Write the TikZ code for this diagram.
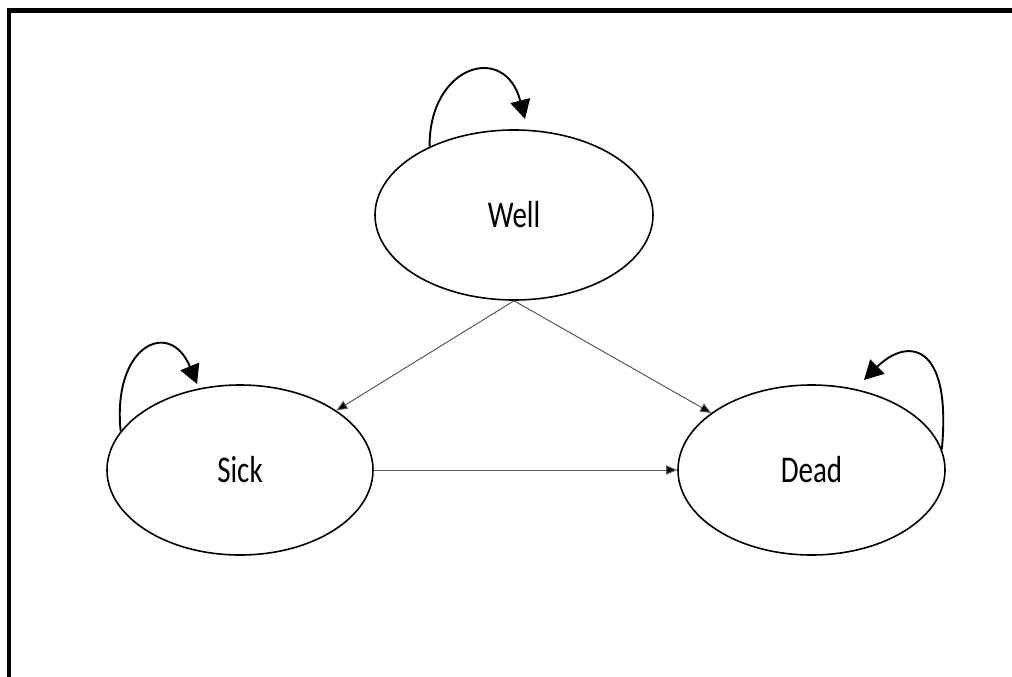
\documentclass[tikz,border=0pt]{standalone}
\usepackage{fontspec}
\usepackage{graphicx}
\setmainfont{Carlito}
\usetikzlibrary{shapes.geometric,arrows.meta}
\begin{document}
\begin{tikzpicture}[x=1pt,y=-1pt,
  state/.style={ellipse,draw=black,line width=1.6pt,minimum width=#1,minimum height=170pt,inner sep=0pt,font=\fontsize{29}{32}\selectfont},
  thin arrow/.style={draw=black!65,line width=1pt,-{Triangle[length=11pt,width=9pt,fill=black]}},
  loop arrow/.style={draw=black,line width=1.9pt,-{Triangle[length=19pt,width=20pt]}},
  frame/.style={draw=black,line width=4.5pt,line cap=butt,line join=miter}]
\useasboundingbox (0,0) rectangle (1012,677);
\draw[frame] (9,690) -- (9,10.3) -- (1025,10.3);
\node[state=278pt] (well) at (514,215) {\scalebox{1}[1.3]{Well}};
\node[state=266pt] (sick) at (240,470) {\scalebox{1}[1.3]{Sick}};
\node[state=267pt] (dead) at (811.5,470) {\scalebox{1}[1.3]{Dead}};
\draw[thin arrow] (well.south) -- (sick);
\draw[thin arrow] (well.south) -- (dead);
\draw[thin arrow] (sick) -- (dead);
\coordinate (wellend) at (525,119);
\coordinate (sickend) at (197,384);
\coordinate (deadend) at (864,380);
\draw[loop arrow] (well.141) .. controls (429,65) and (505,42) .. (wellend);
\draw[loop arrow] (sick.162) .. controls (112,345) and (170,318) .. (sickend);
\draw[loop arrow] (dead.9.5) .. controls (952,340) and (906,338) .. (deadend);
\end{tikzpicture}
\end{document}
